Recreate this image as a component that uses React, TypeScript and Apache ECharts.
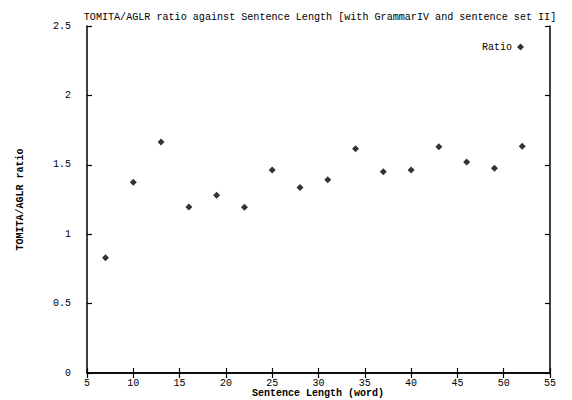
import React, { useEffect, useRef } from "react";
import * as echarts from "echarts";

const titleText = "TOMITA/AGLR ratio against Sentence Length [with GrammarIV and sentence set II]";
const xAxisName = "Sentence Length (word)";
const yAxisName = "TOMITA/AGLR ratio";
const seriesName = "Ratio";
const sentenceLengths = [7, 10, 13, 16, 19, 22, 25, 28, 31, 34, 37, 40, 43, 46, 49, 52];
const ratios = [0.83, 1.375, 1.665, 1.196, 1.28, 1.195, 1.463, 1.336, 1.392, 1.615, 1.45, 1.462, 1.63, 1.52, 1.476, 1.633];

const FONT = "'Liberation Mono', 'DejaVu Sans Mono', monospace";

export default function App() {
  const ref = useRef<HTMLDivElement>(null);
  useEffect(() => {
    if (!ref.current) return;
    const chart = echarts.init(ref.current, undefined, { renderer: "svg" });
    const axisLine = { show: true, lineStyle: { color: "#000", width: 1.5 } };
    const tick = { show: true, inside: true, length: 5, lineStyle: { color: "#000", width: 1.2 } };
    chart.setOption({
      animation: false,
      backgroundColor: "#fff",
      title: {
        text: titleText,
        left: 315,
        top: 7,
        textAlign: "center",
        textStyle: { fontFamily: FONT, fontSize: 10.1, fontWeight: "normal", color: "#000" },
      },
      legend: {
        data: [seriesName],
        right: 43,
        top: 37,
        align: "right",
        itemWidth: 7,
        itemHeight: 7,
        textStyle: { fontFamily: FONT, fontSize: 10, color: "#000" },
      },
      graphic: [
        {
          type: "text",
          x: 318,
          y: 388,
          style: {
            text: xAxisName,
            fontFamily: FONT,
            fontSize: 10,
            fontWeight: "bold",
            fill: "#000",
            align: "center",
            verticalAlign: "top",
          },
        },
      ],
      grid: { left: 87, right: 22, top: 26, bottom: 27, outerBoundsMode: "none", containLabel: false },
      xAxis: [
        {
          type: "value",
          min: 5,
          max: 55,
          interval: 5,
          position: "bottom",
          axisLine,
          axisTick: tick,
          splitLine: { show: false },
          axisLabel: { fontFamily: FONT, fontSize: 10, lineHeight: 10, color: "#000", margin: 5 },
        },
        {
          type: "value",
          min: 5,
          max: 55,
          interval: 5,
          position: "top",
          axisLine,
          axisTick: tick,
          splitLine: { show: false },
          axisLabel: { show: false },
        },
      ],
      yAxis: [
        {
          type: "value",
          min: 0,
          max: 2.5,
          interval: 0.5,
          position: "left",
          name: yAxisName,
          nameLocation: "middle",
          nameGap: 62,
          nameMoveOverlap: false,
          nameTextStyle: { fontFamily: FONT, fontSize: 10, fontWeight: "bold", color: "#000" },
          axisLine,
          axisTick: tick,
          splitLine: { show: false },
          axisLabel: { fontFamily: FONT, fontSize: 10, color: "#000", margin: 16 },
        },
        {
          type: "value",
          min: 0,
          max: 2.5,
          interval: 0.5,
          position: "right",
          axisLine,
          axisTick: tick,
          splitLine: { show: false },
          axisLabel: { show: false },
        },
      ],
      series: [
        {
          name: seriesName,
          type: "scatter",
          symbol: "diamond",
          symbolSize: 7,
          itemStyle: { color: "#000" },
          data: sentenceLengths.map((x, i) => [x, ratios[i]]),
        },
      ],
    });
    return () => chart.dispose();
  }, []);
  return (
    <div
      ref={ref}
      style={{ position: "fixed", left: 0, top: 0, width: 572, height: 400, background: "#fff" }}
    />
  );
}
